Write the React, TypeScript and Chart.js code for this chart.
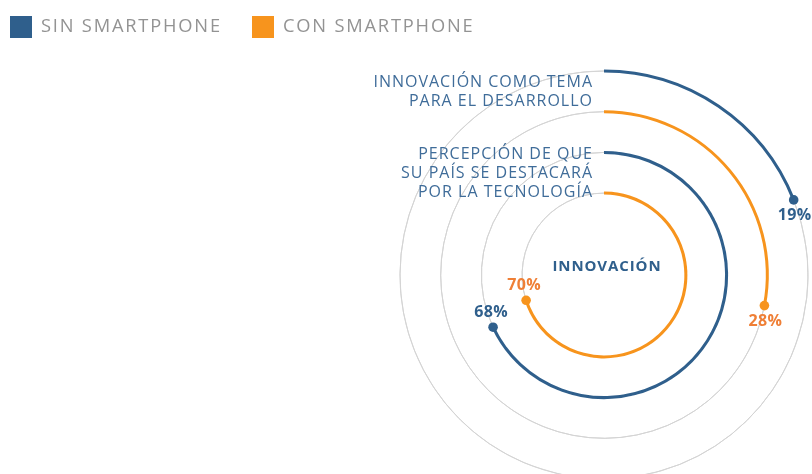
import React, { useEffect, useRef } from "react";
import { Chart, registerables } from "chart.js";

Chart.register(...registerables);

// ---- data ----
const seriesNames = ["SIN SMARTPHONE", "CON SMARTPHONE"];
const categories = [
  ["INNOVACIÓN COMO TEMA", "PARA EL DESARROLLO"],
  ["PERCEPCIÓN DE QUE", "SU PAÍS SE DESTACARÁ", "POR LA TECNOLOGÍA"],
];
const sinSmartphone = [19, 68];
const conSmartphone = [28, 70];
const centerTitle = "INNOVACIÓN";

// ---- style ----
const BLUE = "#2f5f8c";
const ORANGE = "#f7941d";
const ORANGE_TEXT = "#ef7f36";
const GRID = "#d4d4d4";
const LEGEND_TEXT = "#939393";
const LABEL_TEXT = "#3f6c99";
const FONT = "'Open Sans', sans-serif";
const seriesColors = [BLUE, ORANGE];
const seriesTextColors = [BLUE, ORANGE_TEXT];

const OUTER_R = 204;
const GAP = 40.7;
const RING_COUNT = categories.length * seriesNames.length;
const INNER_R = OUTER_R - GAP * (RING_COUNT - 1);

function buildDatasets() {
  const datasets: any[] = [];
  const seriesValues = [sinSmartphone, conSmartphone];
  categories.forEach((_, ci) => {
    seriesNames.forEach((name, si) => {
      const v = seriesValues[si][ci];
      if (datasets.length > 0) {
        datasets.push({
          label: "gap",
          data: [1],
          weight: GAP,
          backgroundColor: ["rgba(0,0,0,0)"],
          borderWidth: 0,
          isGap: true,
        });
      }
      datasets.push({
        label: name,
        data: [v, 100 - v],
        weight: 0,
        backgroundColor: ["rgba(0,0,0,0)", "rgba(0,0,0,0)"],
        borderColor: [seriesColors[si], GRID],
        borderWidth: [3, 1],
        borderAlign: "center",
        ringCat: ci,
        ringSeries: si,
      });
    });
  });
  return datasets;
}

const decorPlugin = {
  id: "decor",
  afterDatasetsDraw(chart: any) {
    const ctx: CanvasRenderingContext2D = chart.ctx;
    const ringMetas: any[] = [];
    chart.data.datasets.forEach((ds: any, i: number) => {
      if (!ds.isGap) ringMetas.push({ ds, meta: chart.getDatasetMeta(i) });
    });

    ctx.save();
    // dots + percent labels
    ringMetas.forEach(({ ds, meta }) => {
      const arc = meta.data[0];
      const { x, y, endAngle, outerRadius } = arc.getProps(["x", "y", "endAngle", "outerRadius"], true);
      const px = x + Math.cos(endAngle) * outerRadius;
      const py = y + Math.sin(endAngle) * outerRadius;
      ctx.beginPath();
      ctx.fillStyle = seriesColors[ds.ringSeries];
      ctx.arc(px, py, 4.8, 0, Math.PI * 2);
      ctx.fill();

      const fromTop = endAngle + Math.PI / 2; // clockwise angle from 12 o'clock
      const below = fromTop < Math.PI;
      (ctx as any).letterSpacing = "0.3px";
      ctx.font = `bold 16px ${FONT}`;
      ctx.fillStyle = seriesTextColors[ds.ringSeries];
      ctx.textAlign = "center";
      ctx.textBaseline = "middle";
      ctx.fillText(`${ds.data[0]}%`, below ? px + 1 : px - 2, below ? py + 16 : py - 15);
    });

    // category labels
    const first = ringMetas[0].meta.data[0];
    const cx = first.x;
    const cy = first.y;
    ctx.font = `400 16px ${FONT}`;
    ctx.fillStyle = LABEL_TEXT;
    ctx.textAlign = "right";
    ctx.textBaseline = "middle";
    (ctx as any).letterSpacing = "1px";
    categories.forEach((lines, ci) => {
      const radii = ringMetas
        .filter((r) => r.ds.ringCat === ci)
        .map((r) => r.meta.data[0].outerRadius);
      const topA = cy - Math.max(...radii);
      const topB = cy - Math.min(...radii);
      const mid = (topA + topB) / 2 + 1;
      const lh = 19;
      lines.forEach((t, li) => {
        ctx.fillText(t, cx - 11, mid + (li - (lines.length - 1) / 2) * lh);
      });
    });

    // center title
    (ctx as any).letterSpacing = "0.9px";
    ctx.font = `bold 15px ${FONT}`;
    ctx.fillStyle = BLUE;
    ctx.textAlign = "center";
    ctx.fillText(centerTitle, cx + 3, cy - 8);

    // legend
    (ctx as any).letterSpacing = "1.8px";
    const legendX = [10, 252];
    seriesNames.forEach((name, i) => {
      ctx.fillStyle = seriesColors[i];
      ctx.fillRect(legendX[i], 16, 22, 22);
      ctx.font = `400 18.3px ${FONT}`;
      ctx.fillStyle = LEGEND_TEXT;
      ctx.textAlign = "left";
      ctx.textBaseline = "middle";
      ctx.fillText(name, legendX[i] + 31, 27);
    });
    ctx.restore();
  },
};

export default function App() {
  const ref = useRef<HTMLCanvasElement>(null);
  useEffect(() => {
    if (!ref.current) return;
    const chart = new Chart(ref.current, {
      type: "doughnut",
      data: { labels: ["valor", "resto"], datasets: buildDatasets() },
      options: {
        responsive: false,
        animation: false,
        events: [],
        radius: OUTER_R,
        cutout: `${(INNER_R / OUTER_R) * 100}%`,
        rotation: 0,
        circumference: 360,
        layout: { padding: { left: 396, top: 76, right: 0, bottom: 0 } },
        plugins: {
          legend: { display: false },
          tooltip: { enabled: false },
        },
      } as any,
      plugins: [decorPlugin],
    });
    return () => chart.destroy();
  }, []);
  return (
    <div style={{ position: "fixed", left: 0, top: 0, width: 812, height: 474, background: "#fff" }}>
      <canvas ref={ref} width={812} height={474} style={{ display: "block" }} />
    </div>
  );
}
